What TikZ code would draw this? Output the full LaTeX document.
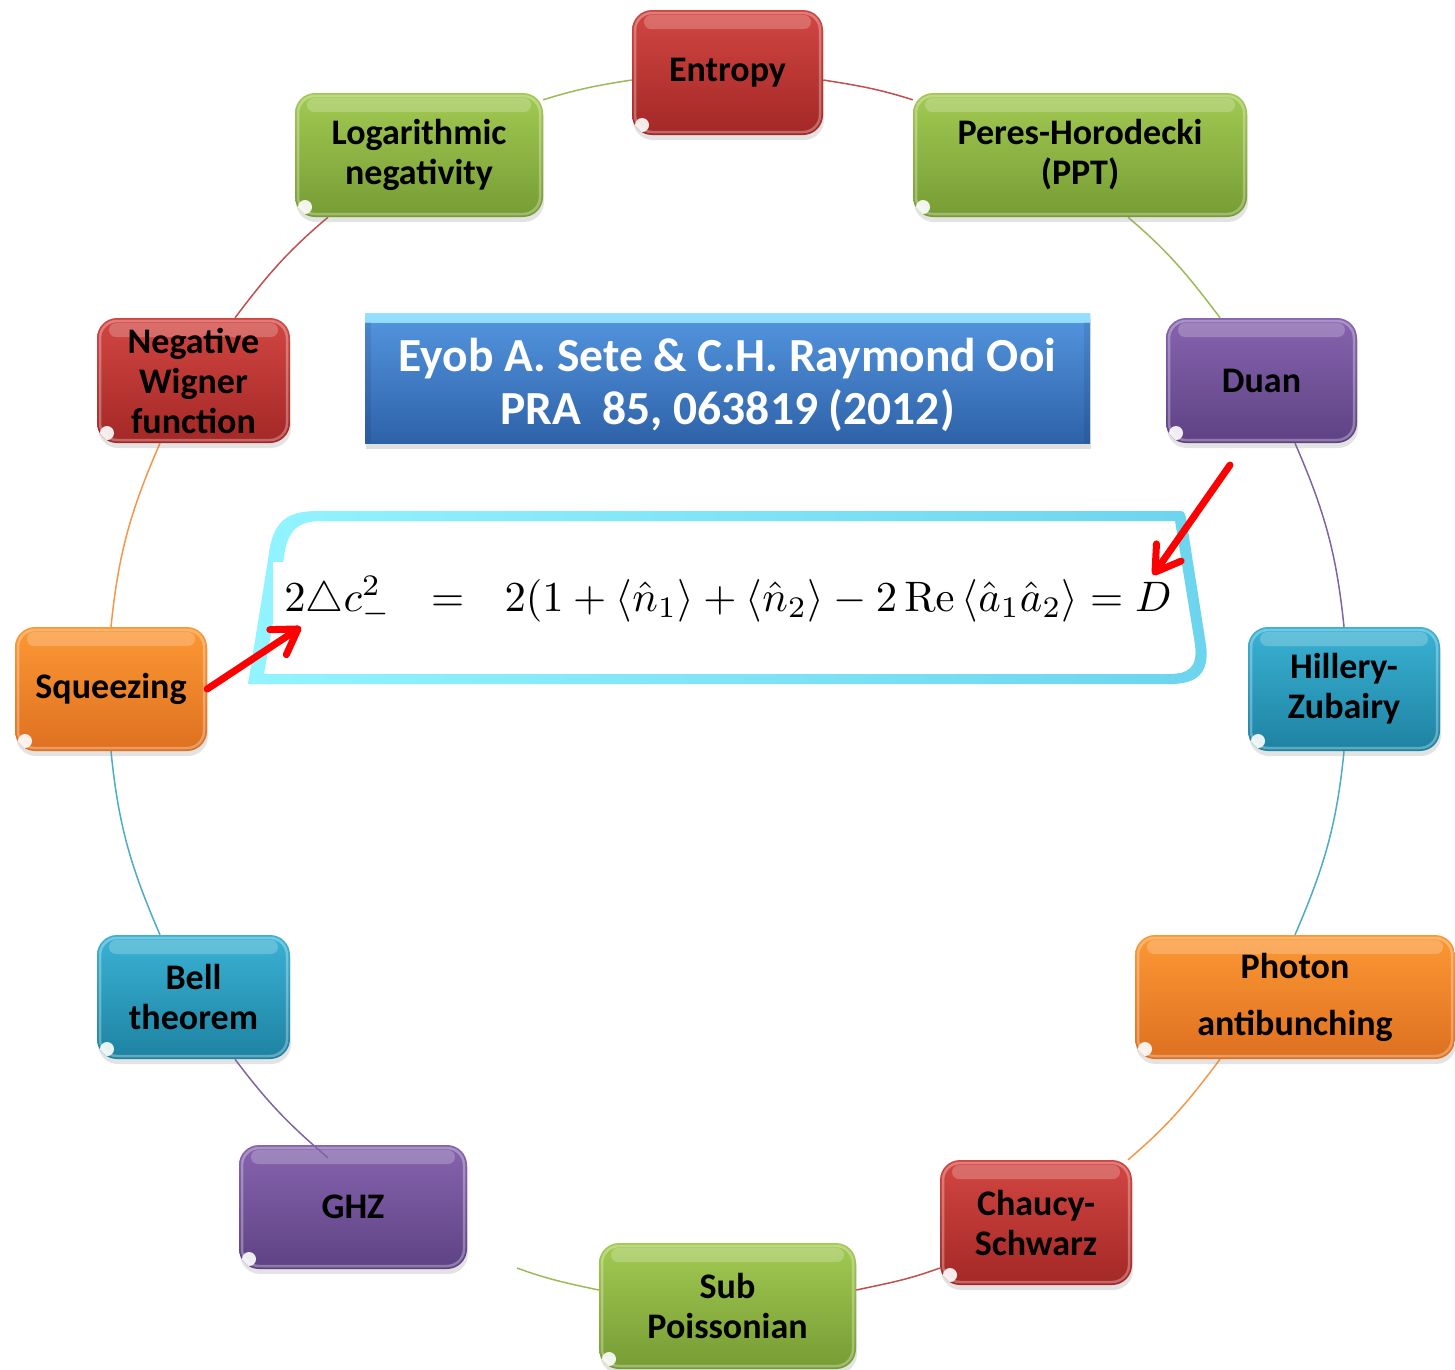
\documentclass[tikz,border=0pt]{standalone}
\usepackage[no-math]{fontspec}
\setmainfont{Carlito}
\usepackage{graphicx}
\usetikzlibrary{arrows.meta,shadows}

% Office-style accent colours (connectors) and box gradients
\definecolor{redA}{RGB}{192,80,77}
\definecolor{greenA}{RGB}{155,187,89}
\definecolor{purpleA}{RGB}{128,100,162}
\definecolor{aquaA}{RGB}{75,172,198}
\definecolor{orangeA}{RGB}{247,150,70}
\definecolor{redT}{RGB}{210,70,66}
\definecolor{redB}{RGB}{163,40,38}
\definecolor{greenT}{RGB}{162,202,82}
\definecolor{greenB}{RGB}{118,156,52}
\definecolor{purpleT}{RGB}{134,100,174}
\definecolor{purpleB}{RGB}{94,66,132}
\definecolor{aquaT}{RGB}{58,178,212}
\definecolor{aquaB}{RGB}{30,130,162}
\definecolor{orangeT}{RGB}{252,152,52}
\definecolor{orangeB}{RGB}{222,112,32}
\definecolor{titleT}{RGB}{84,150,224}
\definecolor{titleB}{RGB}{46,98,168}
\definecolor{titleEdge}{RGB}{150,225,255}
\definecolor{frameL}{RGB}{146,244,255}
\definecolor{frameR}{RGB}{108,212,238}
\definecolor{arrowred}{RGB}{255,0,0}

\newcommand\boxfont{\fontsize{36}{40}\selectfont\bfseries}
\newcommand\titlefont{\fontsize{47.5}{53}\selectfont\bfseries}

% glossy overlay drawn inside each rounded box
\newcommand\boxgloss{%
  \fill[white,opacity=0.22,rounded corners=7pt]
    ([xshift=12pt,yshift=-5pt]path picture bounding box.north west) rectangle
    ([xshift=-12pt,yshift=-19pt]path picture bounding box.north east);
  \draw[white,opacity=0.3,line width=2.5pt,rounded corners=17pt]
    ([xshift=3pt,yshift=-3pt]path picture bounding box.north west) rectangle
    ([xshift=-3pt,yshift=3pt]path picture bounding box.south east);
  \fill[white,opacity=0.9]
    ([xshift=10pt,yshift=10pt]path picture bounding box.south west) circle[radius=7pt];
}

\pgfdeclarelayer{bg}
\pgfsetlayers{bg,main}

\tikzset{
  gbox/.style={rectangle, rounded corners=20pt, inner sep=0pt, align=center,
    font=\boxfont, text=black,
    drop shadow={shadow xshift=1pt, shadow yshift=-5pt, opacity=0.22},
    path picture={\boxgloss}},
  box/.style={gbox, top color=#1T, bottom color=#1B},
  link/.style={draw=#1A, line width=1.5pt},
  redarrow/.style={draw=arrowred, line width=7pt, line cap=round,
    -{Straight Barb[length=24pt,width=30pt,round]}},
  titlebox/.style={rectangle, inner sep=0pt, font=\titlefont,
    text=white, top color=titleT, bottom color=titleB,
    drop shadow={shadow xshift=1pt, shadow yshift=-6pt, opacity=0.25},
    path picture={
      \shade[top color=titleEdge, bottom color=titleT]
        (path picture bounding box.north west) rectangle
        ([yshift=-9pt]path picture bounding box.north east);
      \fill[black,opacity=0.08]
        ([yshift=-9pt]path picture bounding box.north west) rectangle
        ([xshift=6pt]path picture bounding box.south west);
      \fill[black,opacity=0.08]
        ([yshift=-9pt,xshift=-6pt]path picture bounding box.north east) rectangle
        (path picture bounding box.south east);
    }},
}

\begin{document}
\begin{tikzpicture}[x=1pt,y=-1pt]
\useasboundingbox (0,0) rectangle (1455,1369);

% ring of criteria
\node[box=red,    minimum width=191pt, minimum height=125pt] (entropy) at (727.5,72.5) {Entropy};
\node[box=green,  minimum width=248pt, minimum height=124pt] (logneg)  at (419,155)    {Logarithmic\\negativity};
\node[box=green,  minimum width=334pt, minimum height=124pt] (peres)   at (1080,155)   {Peres-Horodecki\\(PPT)};
\node[box=red,    minimum width=193pt, minimum height=125pt] (negw)    at (193.5,380.5) {Negative\\Wigner\\function};
\node[box=purple, minimum width=191pt, minimum height=125pt] (duan)    at (1261.5,380.5) {Duan};
\node[box=orange, minimum width=192pt, minimum height=124pt] (squeez)  at (111,689)    {Squeezing};
\node[box=aqua,   minimum width=192pt, minimum height=124pt] (hillery) at (1344,689)   {Hillery-\\Zubairy};
\node[box=aqua,   minimum width=193pt, minimum height=124pt] (bell)    at (193.5,997)  {Bell\\theorem};
\node[box=orange, minimum width=320pt, minimum height=124pt] (photon)  at (1295,997)   {Photon\\[17pt]antibunching};
\node[box=purple, minimum width=228pt, minimum height=124pt] (ghz)     at (353,1207)   {GHZ};
\node[box=red,    minimum width=192pt, minimum height=125pt] (chaucy)  at (1036,1222.5) {Chaucy-\\Schwarz};
\node[box=green,  minimum width=257pt, minimum height=126pt] (subp)    at (727.5,1306) {Sub\\Poissonian};
\coordinate (subend) at (517,1268);

% connectors following one circle, behind the boxes
\begin{pgfonlayer}{bg}
\draw[link=green]  ([yshift=-7pt]logneg.north east) to[out=17.3,in=-171.2] ([yshift=-7.5pt]entropy.west);
\draw[link=red]    ([yshift=-7.5pt]entropy.east) to[out=-8.9,in=162.5] ([yshift=-7pt]peres.north west);
\draw[link=green]  ([xshift=48pt]peres.south) to[out=-40.4,in=127] ([xshift=-41.5pt]duan.north);
\draw[link=purple] ([xshift=33.5pt]duan.south) to[out=-66.5,in=95.9] (hillery.north);
\draw[link=aqua]   (hillery.south) to[out=-95.7,in=66.7] (photon.north);
\draw[link=orange] ([xshift=-75pt]photon.south) to[out=-126.9,in=40.5] ([xshift=92pt]chaucy.north);
\draw[link=red]    ([yshift=-45.5pt]chaucy.west) to[out=-159.8,in=12.1] ([yshift=16pt]subp.east);
\draw[link=green]  ([yshift=16pt]subp.west) to[out=168,in=-20] (subend);
\draw[link=aqua]   ([xshift=-33.5pt]bell.north) to[out=113.4,in=-84.3] (squeez.south);
\draw[link=orange] (squeez.north) to[out=84.2,in=-113.5] ([xshift=-33.5pt]negw.south);
\draw[link=red]    ([xshift=41.5pt]negw.north) to[out=52.9,in=-139.8] ([xshift=-91pt]logneg.south);
\end{pgfonlayer}
\draw[link=purple] ([xshift=-25pt,yshift=-13pt]ghz.north) to[out=139.5,in=-53] ([xshift=41.5pt]bell.south);

% reference banner
\node[titlebox, minimum width=725pt, minimum height=130pt] (title) at (727.5,378)
  {\raisebox{-15.4pt}[0pt][0pt]{\begin{tabular}{@{}c@{}}Eyob A. Sete \& C.H. Raymond Ooi\\PRA\ \ 85, 063819 (2012)\end{tabular}}};

% frame around the formula
\shade[left color=frameL, right color=frameR, even odd rule]
  (248,684) -- (268,560) .. controls (272,522) and (285,511) .. (318,511)
  -- (1180,511) .. controls (1184,511) and (1185,513) .. (1186,518)
  -- (1206,645) .. controls (1210,675) and (1195,684) .. (1170,684) -- cycle
  (264,674) -- (283,565) .. controls (286,531) and (296,521) .. (322,521)
  -- (1175,521) -- (1195,645) .. controls (1198,668) and (1188,674) .. (1168,674) -- cycle;
\fill[white] (273,562) rectangle (1182,673);

\node[inner sep=0pt] (formula) at (728,601)
  {\resizebox{887pt}{!}{$2\triangle c^{2}_{-}\mkern12mu=\mkern12mu 2(1+\langle\hat{n}_1\rangle+\langle\hat{n}_2\rangle-2\,\mathrm{Re}\,\langle\hat{a}_1\hat{a}_2\rangle=D$}};

% pointers to the two sides of the criterion
\coordinate (dtail) at (1230,465);
\coordinate (dtip)  at (1153,575);
\coordinate (ctip)  at (301,627);
\draw[redarrow] (dtail) -- (dtip);
\draw[redarrow] (squeez.east) -- (ctip);
\end{tikzpicture}
\end{document}
